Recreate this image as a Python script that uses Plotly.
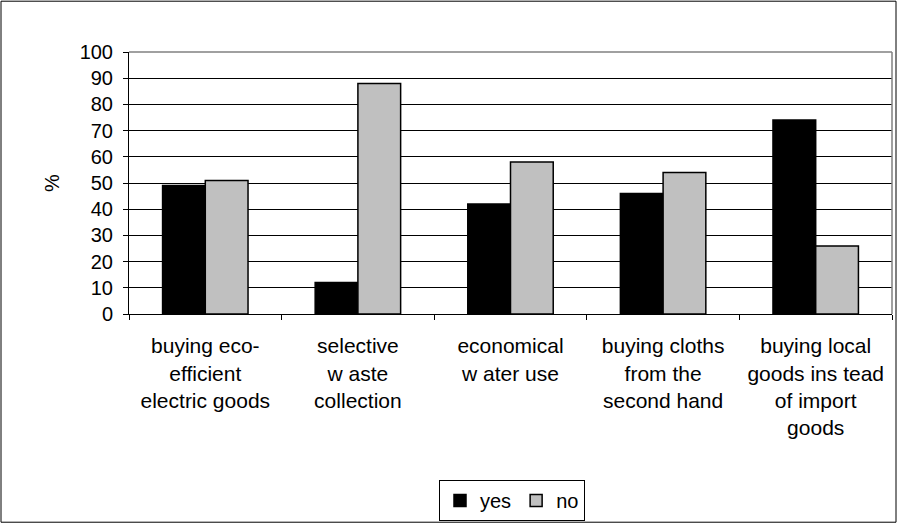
import plotly.graph_objects as go

categories = [
    "buying eco-<br>efficient<br>electric goods",
    "selective<br>w aste<br>collection",
    "economical<br>w ater use",
    "buying cloths<br>from the<br>second hand",
    "buying local<br>goods ins tead<br>of import<br>goods",
]
yes_values = [49, 12, 42, 46, 74]
no_values = [51, 88, 58, 54, 26]
y_ticks = [0, 10, 20, 30, 40, 50, 60, 70, 80, 90, 100]

FONT = "Liberation Sans, Arial, sans-serif"

fig = go.Figure()
fig.add_trace(go.Bar(
    name="yes", x=categories, y=yes_values,
    marker=dict(color="#000000", line=dict(color="#000000", width=1.5)),
))
fig.add_trace(go.Bar(
    name="no", x=categories, y=no_values,
    marker=dict(color="#C0C0C0", line=dict(color="#000000", width=1.5)),
))

W, H = 897, 525
L, R, T, B = 129, 5, 52, 210
pw, ph = W - L - R, H - T - B

fig.update_layout(
    width=W, height=H,
    margin=dict(l=L, r=R, t=T, b=B, pad=0),
    paper_bgcolor="white", plot_bgcolor="white",
    barmode="group", bargap=0.44, bargroupgap=0,
    font=dict(family=FONT, size=20, color="#000000"),
    showlegend=True,
    legend=dict(
        orientation="h", x=(512 - L) / pw, xanchor="center",
        y=(T + ph - 480) / ph, yanchor="top",
        bordercolor="#000000", borderwidth=1, bgcolor="white",
        font=dict(family=FONT, size=20),
        itemwidth=30, traceorder="normal",
    ),
    xaxis=dict(
        showline=True, linecolor="#000000", linewidth=1,
        ticks="outside", tickson="boundaries", ticklen=5, tickcolor="#000000",
        showgrid=False, tickangle=0, ticklabelstandoff=13,
        tickfont=dict(size=21),
    ),
    yaxis=dict(
        range=[0, 100], tickvals=y_ticks,
        showline=True, linecolor="#000000", linewidth=1,
        ticks="outside", ticklen=5, tickcolor="#000000",
        showgrid=True, gridcolor="#000000", gridwidth=1,
        zeroline=False, ticklabelstandoff=6,
        title=dict(text="%", standoff=14, font=dict(size=20)),
    ),
    shapes=[
        # grey plot-area border on top and right
        dict(type="line", xref="paper", yref="paper", x0=0, x1=1, y0=1, y1=1,
             line=dict(color="#808080", width=1.5), layer="above"),
        dict(type="line", xref="paper", yref="paper", x0=1, x1=1, y0=0, y1=1,
             line=dict(color="#808080", width=1.5), layer="above"),
        # outer chart frame
        dict(type="rect", xref="paper", yref="paper",
             x0=(1 - L) / pw, x1=(W - 1 - L) / pw,
             y0=(T + ph - (H - 1)) / ph, y1=(T + ph - 1) / ph,
             line=dict(color="#000000", width=1), layer="above"),
    ],
)

fig.write_html("out.html")
